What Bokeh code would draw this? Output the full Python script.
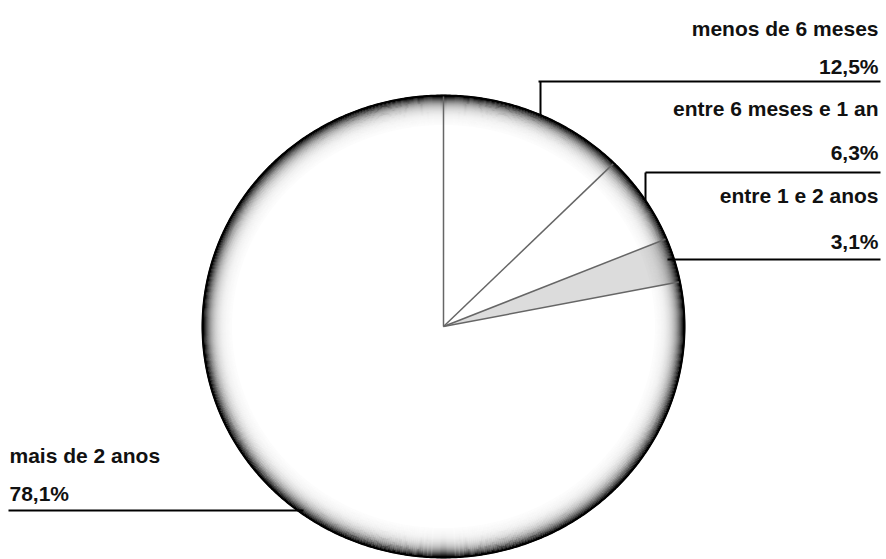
import numpy as np
from bokeh.plotting import figure
from bokeh.models import Range1d
from bokeh.core.properties import value
from bokeh.embed import file_html
from bokeh.resources import INLINE

# ---- data ----
labels = ["menos de 6 meses", "entre 6 meses e 1 an", "entre 1 e 2 anos", "mais de 2 anos"]
values = [12.5, 6.3, 3.1, 78.1]
pct_labels = ["12,5%", "6,3%", "3,1%", "78,1%"]

# ---- layout ----
W, H = 886, 559
cx, cy = 443, 326
rx, ry = 241, 231
fills = ["#ffffff", "#ffffff", "#dcdcdc", "#ffffff"]

p = figure(width=W, height=H, x_range=Range1d(0, W), y_range=Range1d(H, 0),
           output_backend="svg", toolbar_location=None, min_border=0)
p.axis.visible = False
p.grid.visible = False
p.outline_line_color = None
p.background_fill_color = "white"
p.border_fill_color = "white"

vals = np.array(values, dtype=float)
fr = vals / vals.sum()
ends = np.cumsum(fr)
starts = ends - fr

def pt(t, r=1.0):
    th = 2 * np.pi * t
    return cx + r * rx * np.sin(th), cy - r * ry * np.cos(th)

xs, ys = [], []
for s, e in zip(starts, ends):
    t = np.linspace(s, e, 200)
    x, y = pt(t)
    xs.append([cx] + list(x))
    ys.append([cy] + list(y))
p.patches(xs, ys, fill_color=fills, line_color=None)

# radial gradient rim (3D look)
tt = np.linspace(0, 1, 721)
rxs, rys, ralpha = [], [], []
for d in np.arange(0, 30, 1.0):
    th = 2 * np.pi * tt
    rxs.append(list(cx + (rx - d) * np.sin(th)))
    rys.append(list(cy - (ry - d) * np.cos(th)))
    ralpha.append(float(min(1.0, 1.15 * np.exp(-d / 6.3))))
p.multi_line(rxs, rys, line_color="black", line_alpha=ralpha, line_width=1.3)

# radial separators
sep_x, sep_y = [], []
for s in starts:
    x, y = pt(s)
    sep_x.append([cx, float(x)])
    sep_y.append([cy, float(y)])
p.multi_line(sep_x, sep_y, line_color="#666666", line_width=1.5)

# outer edge
x, y = pt(tt)
p.line(list(x), list(y), line_color="black", line_width=2)

# ---- labels & leaders ----
def edge_y(xv):
    return cy - ry * np.sqrt(1 - ((xv - cx) / rx) ** 2)

font = value("Liberation Sans")
fs = "21px"
right_x = 878
lab_base = [28, 108, 195]
pct_base = [66, 152, 241]
line_y = [81, 172, 259]
line_x0 = [538, 645, 667]
vert_x = [540, 645, None]

p.text(x=[right_x] * 3, y=lab_base, text=labels[:3], text_font=font, text_font_style="bold",
       text_font_size=fs, text_align="right", text_baseline="alphabetic", text_color="#111111")
p.text(x=[right_x] * 3, y=pct_base, text=pct_labels[:3], text_font=font, text_font_style="bold",
       text_font_size=fs, text_align="right", text_baseline="alphabetic", text_color="#111111")

lx, ly = [], []
for i in range(3):
    lx.append([line_x0[i], 880])
    ly.append([line_y[i], line_y[i]])
    if vert_x[i] is not None:
        lx.append([vert_x[i], vert_x[i]])
        ly.append([line_y[i], float(edge_y(vert_x[i]))])
lx.append([8, 303])
ly.append([510, 510])
p.multi_line(lx, ly, line_color="black", line_width=2)

p.text(x=[9, 9], y=[455, 493], text=[labels[3], pct_labels[3]], text_font=font,
       text_font_style="bold", text_font_size=fs, text_align="left",
       text_baseline="alphabetic", text_color="#111111")

open("out.html", "w").write(file_html(p, INLINE))
